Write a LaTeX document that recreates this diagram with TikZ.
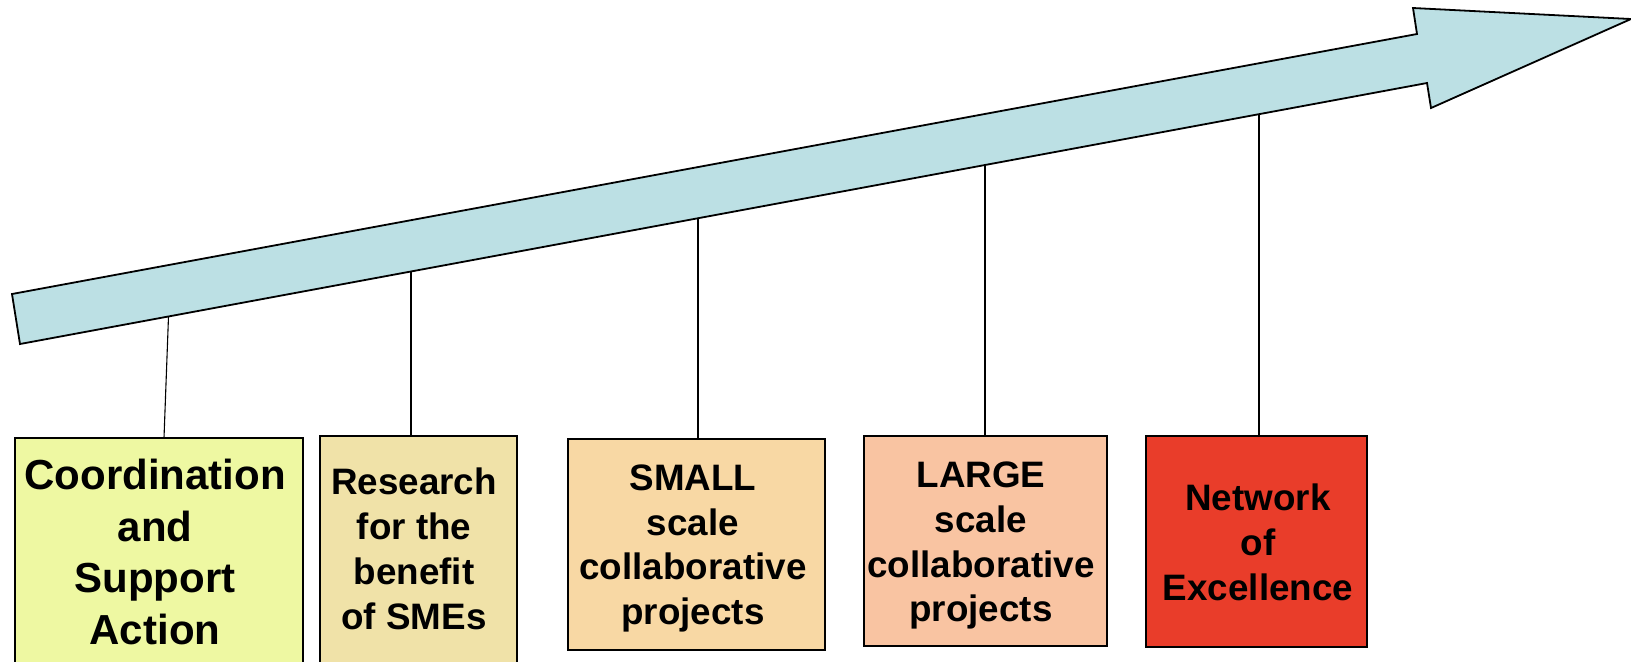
\documentclass[tikz,border=0pt]{standalone}
\usepackage{fontspec}
\setmainfont{Liberation Sans}
\usetikzlibrary{calc}
\definecolor{arrowfill}{HTML}{BCE0E4}
\definecolor{cA}{HTML}{EEF8A2}
\definecolor{cB}{HTML}{F0E2A8}
\definecolor{cC}{HTML}{F8D8A4}
\definecolor{cD}{HTML}{F9C4A2}
\definecolor{cE}{HTML}{E93D2A}
\tikzset{
  arrowbody/.style={draw=black, line width=0.9pt, fill=arrowfill, line join=miter},
  boxnode/.style={draw=black, line width=0.9pt, inner sep=0pt, outer sep=0pt},
  conn/.style={draw=black, line width=0.55pt},
  bigtext/.style={align=center, inner sep=0pt, font=\fontsize{21pt}{25.7pt}\selectfont\bfseries},
  smalltext/.style={align=center, inner sep=0pt, font=\fontsize{18.4pt}{22.4pt}\selectfont\bfseries}
}
\begin{document}
\begin{tikzpicture}[x=0.5pt, y=-0.5pt]
\useasboundingbox (0,0) rectangle (1631,661);
\clip (0,0) rectangle (1631,661);
% arrow
\coordinate (T1) at (12,294);
\coordinate (T2) at (20,344);
\coordinate (U) at (1417,34);
\coordinate (UN) at (1413,8);
\coordinate (TIP) at (1631,19);
\coordinate (LN) at (1431,108);
\coordinate (L) at (1427,83);
\draw[arrowbody] (T1) -- (U) -- (UN) -- (TIP) -- (LN) -- (L) -- (T2) -- cycle;
% boxes
\node[boxnode, fill=cA, minimum width=144pt, minimum height=131pt] (b1) at (159,569) {};
\node[boxnode, fill=cB, minimum width=98.5pt, minimum height=132pt] (b2) at (418.5,568) {};
\node[boxnode, fill=cC, minimum width=128.5pt, minimum height=105.5pt] (b3) at (696.5,544.5) {};
\node[boxnode, fill=cD, minimum width=121.5pt, minimum height=105pt] (b4) at (985.5,541) {};
\node[boxnode, fill=cE, minimum width=110.5pt, minimum height=105.5pt] (b5) at (1256.5,541.5) {};
% texts
\node[bigtext] (t1) at (155,552) {Coordination\\and\\Support\\Action};
\node[smalltext] (t2) at (414,549) {Research\\for the\\benefit\\of SMEs};
\node[smalltext] (t3) at (693,548.5) {SMALL\\scale\\collaborative\\projects};
\node[smalltext] (t4) at (981,545.7) {LARGE\\scale\\collaborative\\projects};
\node[smalltext] (t5) at (1258,542.5) {Network\\of\\Excellence};
% connectors
\coordinate (a1) at (intersection of T2--L and 168.5,0--168.5,700);
\coordinate (a2) at (intersection of T2--L and 411,0--411,700);
\coordinate (a3) at (intersection of T2--L and 698,0--698,700);
\coordinate (a4) at (intersection of T2--L and 985,0--985,700);
\coordinate (a5) at (intersection of T2--L and 1259,0--1259,700);
\draw[conn] (a1) -- ([xshift=2.5pt]b1.north);
\draw[conn] (a2) -- (a2 |- b2.north);
\draw[conn] (a3) -- (a3 |- b3.north);
\draw[conn] (a4) -- (a4 |- b4.north);
\draw[conn] (a5) -- (a5 |- b5.north);
\end{tikzpicture}
\end{document}
